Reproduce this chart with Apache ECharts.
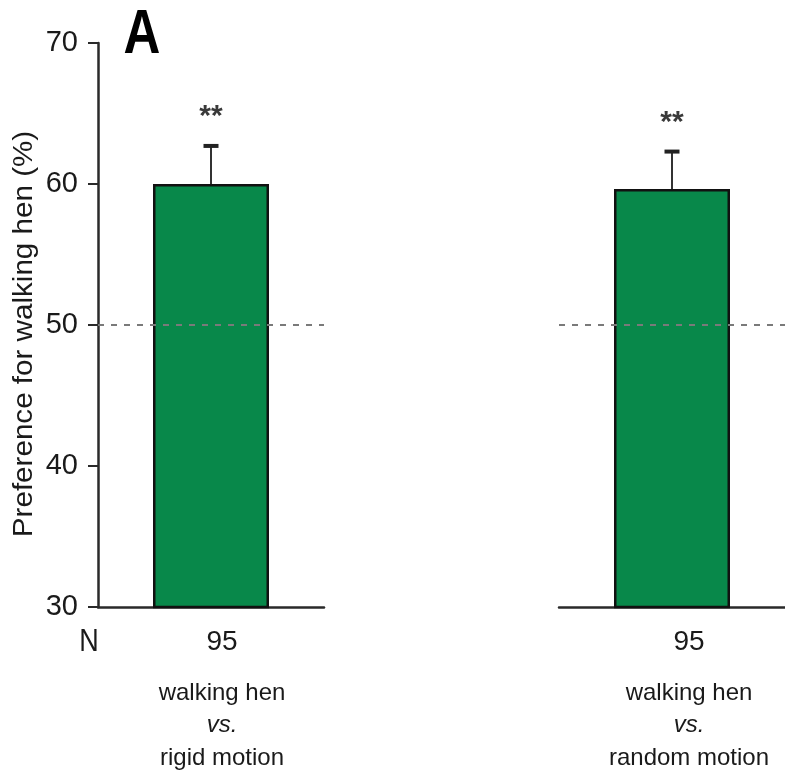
<!DOCTYPE html>
<html>
<head>
<meta charset="utf-8">
<script src="https://cdn.jsdelivr.net/npm/echarts@6/dist/echarts.min.js"></script>
<style>
html,body{margin:0;padding:0;background:#fff;}
#chart{width:785px;height:778px;}
</style>
</head>
<body>
<div id="chart"></div>
<script>
// ---- data ----
const nLabels = ['95', '95'];
const compareA = 'walking hen';
const compareB = ['rigid motion', 'random motion'];
const preference = [60.0, 59.65];
const sem = [2.7, 2.65];
const significance = ['**', '**'];
const chanceLevel = 50;
const yMin = 30, yMax = 70, yInterval = 10;
const yTitle = 'Preference for walking hen (%)';
const panelLetter = 'A';
const nTitle = 'N';

const FONT = '"Liberation Sans", Arial, Helvetica, sans-serif';
const chart = echarts.init(document.getElementById('chart'), null, {renderer: 'canvas'});

const grids = [
  {left: 98, top: 43, width: 226, bottom: 171},
  {left: 559, top: 43, right: 0, bottom: 171}
];
const labelShift = [22, 34];

const xAxes = [0, 1].map(i => ({
  type: 'category',
  gridIndex: i,
  data: [compareB[i]],
  axisLine: {show: true, lineStyle: {color: '#2a2a2a', width: 2.5}},
  axisTick: {show: false},
  axisLabel: {
    margin: 22,
    interval: 0,
    padding: [0, 0, 0, labelShift[i]],
    formatter: () => `{n|${nLabels[i]}}\n{s| }\n{a|${compareA}}\n{i|vs.}\n{a|${compareB[i]}}`,
    rich: {
      n: {fontFamily: FONT, fontSize: 28, lineHeight: 26, color: '#1a1a1a'},
      s: {fontSize: 8, lineHeight: 22},
      a: {fontFamily: FONT, fontSize: 24, lineHeight: 32.5, color: '#1a1a1a'},
      i: {fontFamily: FONT, fontSize: 24, lineHeight: 32.5, fontStyle: 'italic', color: '#1a1a1a'}
    }
  }
}));

const yAxes = [0, 1].map(i => ({
  type: 'value',
  gridIndex: i,
  min: yMin, max: yMax, interval: yInterval,
  show: i === 0,
  splitLine: {show: false},
  axisLine: {show: true, lineStyle: {color: '#2a2a2a', width: 2.5}},
  axisTick: {show: true, length: 10, lineStyle: {color: '#2a2a2a', width: 2}},
  axisLabel: {fontFamily: FONT, fontSize: 29, color: '#1a1a1a', margin: 20}
}));

const series = [];
[0, 1].forEach(i => {
  series.push({
    type: 'bar',
    xAxisIndex: i, yAxisIndex: i,
    data: [preference[i]],
    barWidth: 116,
    itemStyle: {color: '#08884a', borderColor: '#111', borderWidth: 2.5},
    silent: true,
    markLine: {
      silent: true,
      symbol: 'none',
      label: {show: false},
      lineStyle: {color: '#7a7a7a', type: [6, 7], width: 1.8},
      data: [{yAxis: chanceLevel}]
    }
  });
  series.push({
    type: 'custom',
    xAxisIndex: i, yAxisIndex: i,
    data: [[0, preference[i], sem[i]]],
    z: 5,
    renderItem: function (params, api) {
      const x = api.value(0), m = api.value(1), e = api.value(2);
      const p0 = api.coord([x, m]);
      const p1 = api.coord([x, m + e]);
      return {
        type: 'group',
        children: [
          {type: 'line', shape: {x1: p0[0], y1: p0[1], x2: p1[0], y2: p1[1]},
           style: {stroke: '#333', lineWidth: 2}},
          {type: 'line', shape: {x1: p1[0] - 7.5, y1: p1[1], x2: p1[0] + 7.5, y2: p1[1]},
           style: {stroke: '#222', lineWidth: 4}},
          {type: 'text', x: p1[0], y: p1[1] - 29,
           style: {text: significance[i], textAlign: 'center', textVerticalAlign: 'middle',
                   font: 'bold 30px ' + FONT, fill: '#3a3a3a'}}
        ]
      };
    }
  });
});

chart.setOption({
  animation: false,
  backgroundColor: '#fff',
  grid: grids,
  xAxis: xAxes,
  yAxis: yAxes,
  series: series,
  graphic: [
    {type: 'text', x: 38, y: 334, rotation: Math.PI / 2, scaleX: 1.057,
     style: {text: yTitle, textAlign: 'center', textVerticalAlign: 'bottom',
             font: '28px ' + FONT, fill: '#1a1a1a'}},
    {type: 'text', x: 142, y: 36, scaleY: 1.24,
     style: {text: panelLetter, textAlign: 'center', textVerticalAlign: 'middle',
             font: 'bold 51px ' + FONT, fill: '#000'}},
    {type: 'text', x: 89, y: 642, scaleY: 1.15,
     style: {text: nTitle, textAlign: 'center', textVerticalAlign: 'middle',
             font: '27px ' + FONT, fill: '#1a1a1a'}}
  ]
});
</script>
</body>
</html>
